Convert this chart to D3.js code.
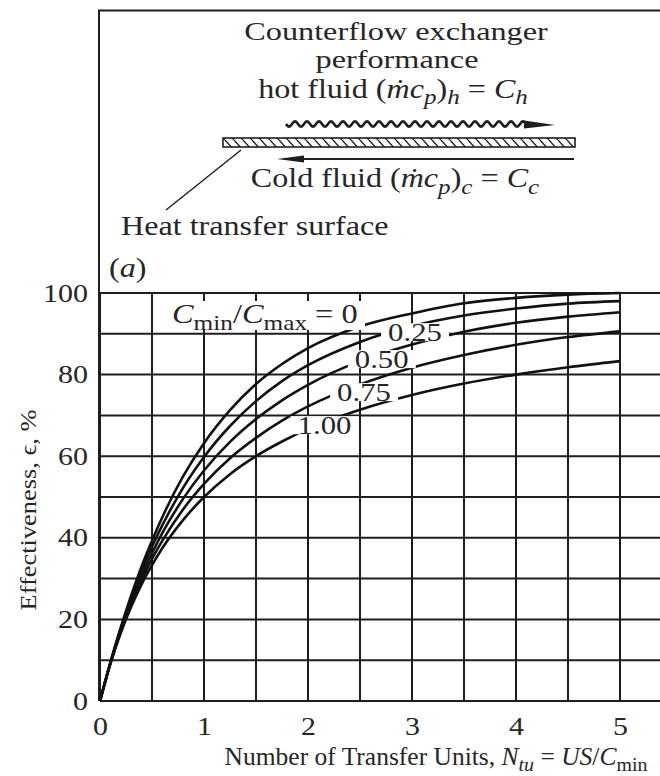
<!DOCTYPE html>
<html>
<head>
<meta charset="utf-8">
<script src="https://cdn.jsdelivr.net/npm/d3@7"></script>
<style>
  body { margin: 0; background: #fff; }
  svg text { font-family: "Liberation Serif", "Times New Roman", serif; fill: #262626; }
</style>
</head>
<body>
<div id="chart"></div>
<script>
// Ntu values read along the x axis
const ntu = [0, 0.1, 0.2, 0.3, 0.4, 0.5, 0.6, 0.8, 1.0, 1.25, 1.5, 1.75, 2.0, 2.5, 3.0, 3.5, 4.0, 4.5, 5.0];

// effectiveness (%) for each Cmin/Cmax curve
const eff_0   = [0, 9.5, 18.1, 25.9, 33.0, 39.3, 45.1, 55.1, 63.2, 71.3, 77.7, 82.6, 86.5, 91.8, 95.0, 97.5, 98.8, 99.6, 100];
const eff_025 = [0, 9.4, 17.7, 25.2, 31.8, 37.8, 43.1, 52.3, 59.8, 67.4, 73.5, 78.4, 82.3, 88.0, 91.9, 94.5, 96.2, 97.4, 98.0];
const eff_050 = [0, 9.3, 17.4, 24.5, 30.7, 36.2, 41.2, 49.6, 56.5, 63.5, 69.1, 73.7, 77.5, 83.3, 87.4, 90.5, 92.7, 94.2, 95.3];
const eff_075 = [0, 9.2, 17.0, 23.8, 29.6, 34.8, 39.3, 47.0, 53.2, 59.5, 64.5, 68.7, 72.2, 77.6, 81.7, 84.8, 87.3, 89.2, 90.6];
const eff_100 = [0, 9.1, 16.7, 23.1, 28.6, 33.3, 37.5, 44.4, 50.0, 55.6, 60.0, 63.6, 66.7, 71.4, 75.0, 77.8, 80.0, 81.8, 83.3];

const ratios = ["0", "0.25", "0.50", "0.75", "1.00"];
const xTicks = [0, 1, 2, 3, 4, 5];
const yTicks = [0, 20, 40, 60, 80, 100];
const xGrid = [0, 0.5, 1, 1.5, 2, 2.5, 3, 3.5, 4, 4.5, 5, 5.5];
const yGrid = [0, 10, 20, 30, 40, 50, 60, 70, 80, 90, 100];

const width = 660, height = 776;
const margin = {top: 293, left: 100, right: 40, bottom: 75};
const ink = "#1e1e1e";

// Title Rich text
// Description text with italic / subscript pieces, style: r, i, sub, isub.
// sx widens the glyphs, the book face is wider than Times
function richText(parent, parts, size, sx, x, y, anchor, extra) {
    const t = parent.append("text")
        .attr("font-size", size)
        .attr("text-anchor", anchor)
        .attr("transform", `translate(${x},${y})` + (extra || "") + ` scale(${sx},1)`);
    let shift = 0;
    parts.forEach(function(p) {
        const ts = t.append("tspan").text(p[0]);
        const st = p[1] || "r";
        if (st === "i" || st === "isub") ts.style("font-style", "italic");
        const want = (st === "sub" || st === "isub") ? size * 0.25 : 0;
        if (want !== shift) { ts.attr("dy", want - shift); shift = want; }
        if (st === "sub" || st === "isub") ts.attr("font-size", size * 0.78);
    });
    return t;
}

function drawDiagram(svg) {
    const g = svg.append("g");
    const fs = 27, sx = 1.19;

    // frame
    g.append("path")
        .attr("d", `M99,701 V10.5 H${width}`)
        .attr("fill", "none").attr("stroke", ink).attr("stroke-width", 2);

    richText(g, [["Counterflow exchanger"]], 25, 1.29, 396, 40, "middle");
    richText(g, [["performance"]], 25, 1.29, 397, 68, "middle");
    richText(g, [["hot fluid ("], ["ṁc", "i"], ["p", "isub"], [")"], ["h", "isub"], [" = "], ["C", "i"], ["h", "isub"]],
        fs, sx, 393, 97.5, "middle");

    // wavy hot stream
    const wave = d3.range(286, 526, 1).map(function(px) {
        return [px, 124 + 2.6 * Math.sin((px - 286) / 12 * 2 * Math.PI)];
    });
    g.append("path")
        .attr("d", d3.line()(wave) + " L530,124")
        .attr("fill", "none").attr("stroke", ink).attr("stroke-width", 2.6);
    g.append("path")
        .attr("d", "M524,120.5 L555,125 L524,128.5 Z")
        .attr("fill", ink);

    // hatched wall
    const defs = svg.append("defs");
    const pat = defs.append("pattern")
        .attr("id", "hatch")
        .attr("patternUnits", "userSpaceOnUse")
        .attr("width", 9).attr("height", 10);
    pat.append("path")
        .attr("d", "M0,0 L9,10 M-9,0 L0,10 M9,0 L18,10")
        .attr("stroke", ink).attr("stroke-width", 1.4);
    g.append("rect")
        .attr("x", 223).attr("y", 138).attr("width", 352).attr("height", 9)
        .attr("fill", "url(#hatch)")
        .attr("stroke", ink).attr("stroke-width", 1.6);

    // cold stream arrow
    g.append("line")
        .attr("x1", 290).attr("x2", 574).attr("y1", 159).attr("y2", 159)
        .attr("stroke", ink).attr("stroke-width", 1.8);
    g.append("path")
        .attr("d", "M277,159 L304,155.5 L304,162.5 Z")
        .attr("fill", ink);

    richText(g, [["Cold fluid ("], ["ṁc", "i"], ["p", "isub"], [")"], ["c", "isub"], [" = "], ["C", "i"], ["c", "isub"]],
        fs, sx, 395, 187, "middle");

    // leader to the wall
    g.append("line")
        .attr("x1", 166).attr("y1", 210).attr("x2", 241).attr("y2", 150)
        .attr("stroke", ink).attr("stroke-width", 1.5);

    richText(g, [["Heat transfer surface"]], fs, sx, 121, 235, "start");
    richText(g, [["("], ["a", "i"], [")"]], fs, sx, 109, 277, "start");
}

function effChart(svg) {

    const xScale = d3.scaleLinear()
        .domain([0, 5])
        .range([margin.left, 620]);

    const yScale = d3.scaleLinear()
        .domain([0, 100])
        .range([height - margin.bottom, margin.top]);

    // grid
    svg.append("g").selectAll("line")
        .data(yGrid)
        .enter()
        .append("line")
            .attr("x1", margin.left)
            .attr("x2", width)
            .attr("y1", function(d) { return yScale(d); })
            .attr("y2", function(d) { return yScale(d); })
            .attr("stroke", ink)
            .attr("stroke-width", 2);

    svg.append("g").selectAll("line")
        .data(xGrid)
        .enter()
        .append("line")
            .attr("x1", function(d) { return xScale(d); })
            .attr("x2", function(d) { return xScale(d); })
            .attr("y1", yScale(0))
            .attr("y2", yScale(100))
            .attr("stroke", ink)
            .attr("stroke-width", 2);

    // axes (labels only)
    const xAxis = svg.append("g")
        .attr("transform", `translate(0,${yScale(0)})`)
        .call(d3.axisBottom(xScale).tickValues(xTicks).tickFormat(d3.format("d"))
            .tickSize(0).tickPadding(16));
    const yAxis = svg.append("g")
        .attr("transform", `translate(${margin.left},0)`)
        .call(d3.axisLeft(yScale).tickValues(yTicks).tickFormat(d3.format("d"))
            .tickSize(0).tickPadding(10));

    [xAxis, yAxis].forEach(function(a) {
        a.select(".domain").remove();
        a.selectAll("text")
            .attr("font-size", 25)
            .attr("font-family", null)
            .style("fill", "#262626")
            .attr("transform", "scale(1.2,1)");
    });

    // curves
    const series = [eff_0, eff_025, eff_050, eff_075, eff_100];
    const line = d3.line()
        .x(function(d, i) { return xScale(ntu[i]); })
        .y(function(d) { return yScale(d); })
        .curve(d3.curveMonotoneX);

    svg.append("g").selectAll("path")
        .data(series)
        .enter()
        .append("path")
            .attr("d", line)
            .attr("fill", "none")
            .attr("stroke", "#111")
            .attr("stroke-width", 2.6);

    // curve labels, sitting in a gap cut out of each curve
    const labelPos = [
        {n: 2.77, e: 90.4},
        {n: 2.45, e: 83.8},
        {n: 2.28, e: 75.7},
        {n: 1.90, e: 67.6}];

    const lab = svg.append("g");
    labelPos.forEach(function(p, i) {
        const px = xScale(p.n), py = yScale(p.e);
        lab.append("rect")
            .attr("x", px - 7).attr("y", py - 9)
            .attr("width", 68).attr("height", 18)
            .attr("fill", "#fff");
        richText(lab, [[ratios[i + 1]]], 25, 1.23, px, py + 8.5, "start");
    });

    // Cmin/Cmax = 0
    lab.append("rect")
        .attr("x", 163).attr("y", 301).attr("width", 202).attr("height", 29)
        .attr("fill", "#fff");
    richText(lab, [["C", "i"], ["min", "sub"], ["/"], ["C", "i"], ["max", "sub"], [" = " + ratios[0]]],
        27, 1.2, 172, 323, "start");

    // axis titles
    richText(svg, [["Effectiveness, ϵ, %"]], 23, 1.15, 36, 510, "middle", " rotate(-90)");
    richText(svg, [["Number of Transfer Units, "], ["N", "i"], ["tu", "isub"], [" = "], ["US", "i"], ["/"], ["C", "i"], ["min", "sub"]],
        25, 1.02, 436, 765, "middle");
}

const svg = d3.select("#chart")
    .append("svg")
    .attr("width", width)
    .attr("height", height)
    .style("background", "#fff");

drawDiagram(svg);
effChart(svg);
</script>
</body>
</html>
